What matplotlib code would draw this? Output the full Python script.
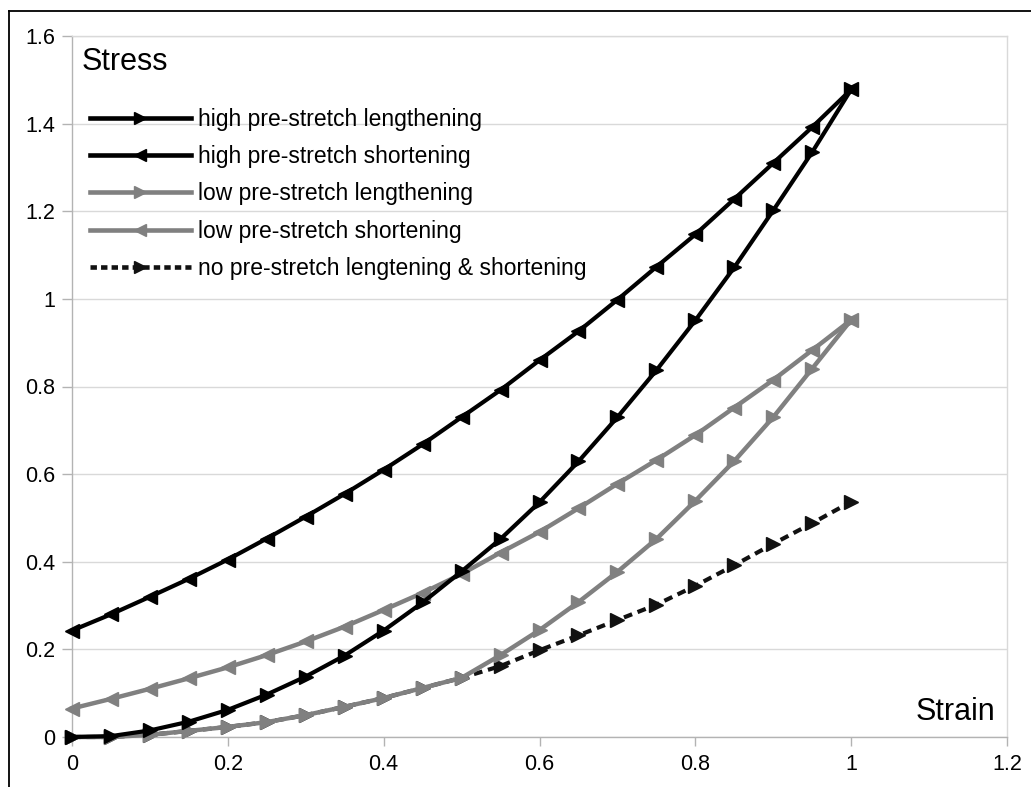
import matplotlib
matplotlib.use("Agg")
import matplotlib.pyplot as plt
from matplotlib.lines import Line2D

plt.rcParams['font.family'] = ['Liberation Sans', 'DejaVu Sans']

strain = [0.0, 0.05, 0.1, 0.15, 0.2, 0.25, 0.3, 0.35, 0.4, 0.45, 0.5,
          0.55, 0.6, 0.65, 0.7, 0.75, 0.8, 0.85, 0.9, 0.95, 1.0]

high_lengthening = [0.0, 0.002, 0.015, 0.035, 0.062, 0.097, 0.138, 0.186, 0.243, 0.307, 0.378,
                    0.452, 0.536, 0.629, 0.73, 0.837, 0.951, 1.072, 1.202, 1.335, 1.478]
high_shortening = [0.243, 0.28, 0.32, 0.361, 0.405, 0.453, 0.503, 0.555, 0.61, 0.668, 0.73,
                   0.792, 0.86, 0.926, 0.998, 1.073, 1.147, 1.228, 1.31, 1.392, 1.478]
low_lengthening = [0.0, 0.0, 0.005, 0.014, 0.023, 0.034, 0.05, 0.069, 0.089, 0.112, 0.135,
                   0.187, 0.244, 0.308, 0.377, 0.452, 0.539, 0.63, 0.73, 0.841, 0.952]
low_shortening = [0.065, 0.087, 0.11, 0.134, 0.159, 0.187, 0.218, 0.252, 0.29, 0.329, 0.372,
                  0.421, 0.468, 0.522, 0.578, 0.632, 0.689, 0.752, 0.815, 0.883, 0.952]
no_prestretch = [0.0, 0.0, 0.005, 0.014, 0.023, 0.034, 0.05, 0.069, 0.089, 0.112, 0.135,
                 0.162, 0.198, 0.232, 0.267, 0.302, 0.345, 0.392, 0.441, 0.488, 0.537]

labels = ["high pre-stretch lengthening", "high pre-stretch shortening",
          "low pre-stretch lengthening", "low pre-stretch shortening",
          "no pre-stretch lengtening & shortening"]

x_ticks = [0, 0.2, 0.4, 0.6, 0.8, 1.0, 1.2]
x_ticklabels = ["0", "0.2", "0.4", "0.6", "0.8", "1", "1.2"]
y_ticks = [0, 0.2, 0.4, 0.6, 0.8, 1.0, 1.2, 1.4, 1.6]
y_ticklabels = ["0", "0.2", "0.4", "0.6", "0.8", "1", "1.2", "1.4", "1.6"]

W, H = 1031, 787
fig = plt.figure(figsize=(W / 100, H / 100), dpi=100)
ax = fig.add_axes([72 / W, 1 - 737 / H, (1007 - 72) / W, (737 - 36) / H])

black = "#000000"
gray = "#808080"
dark = "#111111"
ms = 10

h5, = ax.plot(strain, no_prestretch, color=dark, lw=3.0, linestyle=(0, (2.1, 1.4)),
              marker=">", ms=ms, mfc=dark, mec=dark, zorder=2, clip_on=False)
h3, = ax.plot(strain, low_lengthening, color=gray, lw=3.2, marker=">", ms=ms,
              mfc=gray, mec=gray, zorder=3, clip_on=False)
h4, = ax.plot(strain, low_shortening, color=gray, lw=3.2, marker="<", ms=ms,
              mfc=gray, mec=gray, zorder=3, clip_on=False)
h1, = ax.plot(strain, high_lengthening, color=black, lw=3.0, marker=">", ms=ms,
              mfc=black, mec=black, zorder=4, clip_on=False)
h2, = ax.plot(strain, high_shortening, color=black, lw=3.0, marker="<", ms=ms,
              mfc=black, mec=black, zorder=4, clip_on=False)

ax.set_xlim(0, 1.2)
ax.set_ylim(0, 1.6)
ax.set_xticks(x_ticks)
ax.set_xticklabels(x_ticklabels)
ax.set_yticks(y_ticks)
ax.set_yticklabels(y_ticklabels)
ax.tick_params(axis="both", labelsize=15.5, colors="#b3b3b3", labelcolor="black")
ax.tick_params(axis="y", length=7, width=1, pad=5)
ax.tick_params(axis="x", length=6.5, width=1, pad=6)

ax.yaxis.grid(True, color="#d9d9d9", lw=1)
ax.set_axisbelow(True)
for side in ("left", "bottom"):
    ax.spines[side].set_color("#b3b3b3")
    ax.spines[side].set_linewidth(1)
for side in ("top", "right"):
    ax.spines[side].set_color("#d9d9d9")
    ax.spines[side].set_linewidth(1)

ax.text(82 / W, 1 - 62 / H, "Stress", transform=fig.transFigure, fontsize=22,
        ha="left", va="center")
ax.text(995 / W, 1 - 712 / H, "Strain", transform=fig.transFigure, fontsize=22,
        ha="right", va="center")

leg = fig.legend([h1, h2, h3, h4, h5], labels, loc="upper left",
                 bbox_to_anchor=(90 / W, 1 - 108 / H), bbox_transform=fig.transFigure,
                 frameon=False, fontsize=16.5, handlelength=4.4, handletextpad=0.3,
                 labelspacing=0.62, borderpad=0, borderaxespad=0, numpoints=1,
                 markerscale=0.85)
for line in leg.get_lines():
    line.set_linewidth(3.3)
leg.get_lines()[-1].set_linestyle((0, (1.4, 0.9)))

# outer frame lines along the top and left of the page
fig.add_artist(Line2D([9 / W, 1.0], [1 - 11 / H, 1 - 11 / H], color="black", lw=1.3,
                      transform=fig.transFigure))
fig.add_artist(Line2D([9 / W, 9 / W], [1 - 11 / H, 0.0], color="black", lw=1.3,
                      transform=fig.transFigure))

fig.savefig("out.png", dpi=100)
